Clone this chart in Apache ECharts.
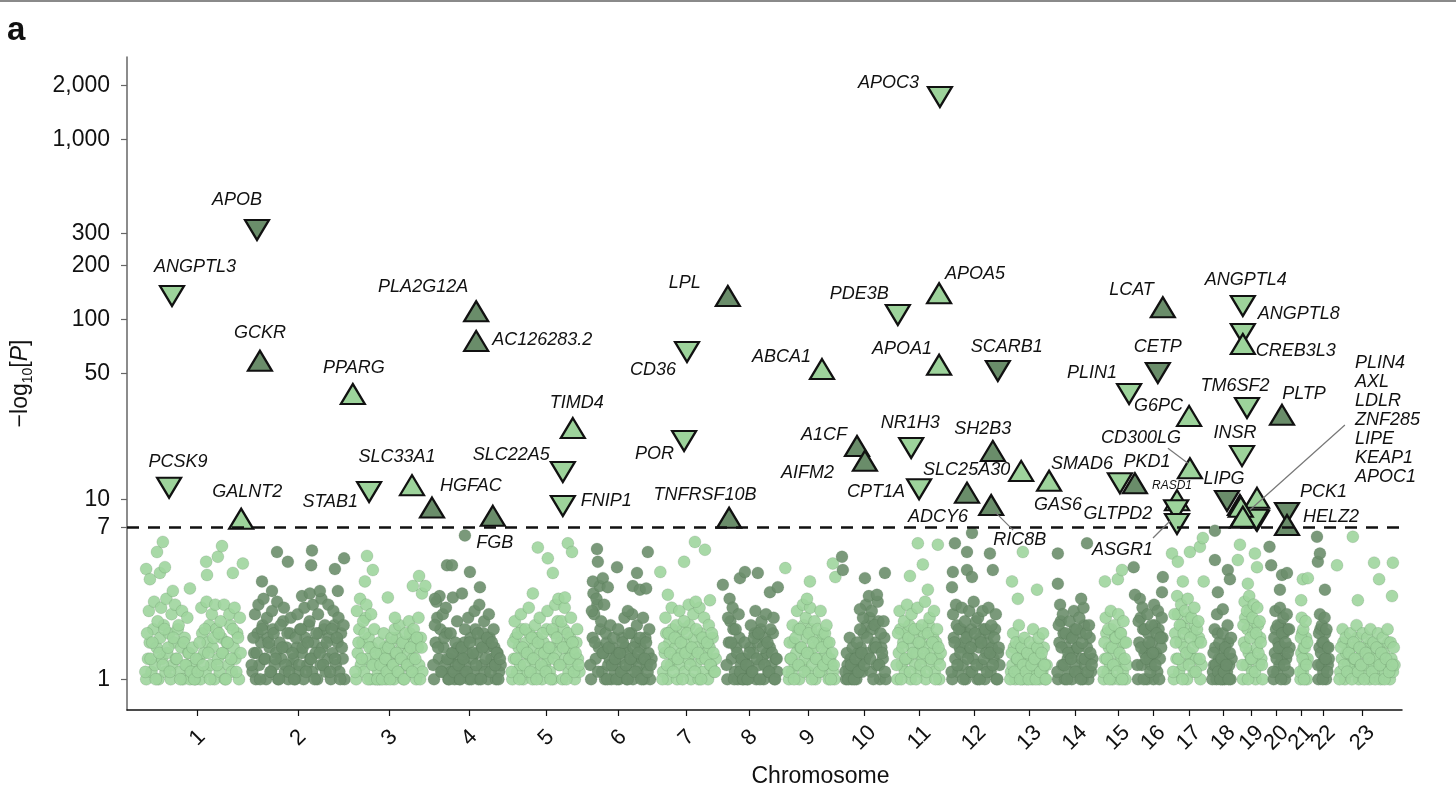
<!DOCTYPE html>
<html>
<head>
<meta charset="utf-8">
<title>Manhattan plot</title>
<script src="https://cdn.jsdelivr.net/npm/echarts@6.0.0/dist/echarts.min.js"></script>
<style>
  html, body { margin: 0; padding: 0; background: #fff; }
  #main { width: 1456px; height: 794px; }
</style>
</head>
<body>
<div id="main"></div>
<script>
// chromosome axis (genome position, arbitrary Mb-like units)
const chromLabels = ['1','2','3','4','5','6','7','8','9','10','11','12','13','14','15','16','17','18','19','20','21','22','23'];
const chromTicks = [169,411,630,822,1006,1180,1343,1494,1634,1769,1902,2033,2166,2275,2378,2463,2549,2631,2699,2759,2817,2871,2965];
const chromBounds = [31,286,535,722,910,1099,1272,1426,1574,1711,1834,1966,2107,2220,2330,2412,2498,2592,2664,2738,2803,2846,2897,3055];
const yTicks = [1, 7, 10, 50, 100, 200, 300, 1000, 2000];
const threshold = 7;

// sub-threshold variants, -log10 P, in genome order per chromosome (upper part of the cloud)
const bandValues = [
  [1.1,1.8,2.4,1.3,1.6,2.7,1.0,2.1,1.4,2.5,1.2,1.9,2.8,1.5,1.1,2.3,1.7,2.6,1.3,2.0,1.0,2.4,1.6,1.2,2.2,1.4,1.1,1.5,1.0,1.3,1.1,1.6,2.5,1.2,1.9,2.7,1.4,1.0,2.3,1.7,2.6,1.2,1.8,2.1,1.4,2.6,1.0,1.6,2.3,1.3,1.9,2.5,1.1,1.7,2.2],
  [1.2,1.7,2.3,1.4,2.6,1.0,1.9,2.8,1.3,2.2,1.6,1.1,2.4,1.8,1.3,2.7,1.0,2.0,1.5,2.5,1.2,1.8,1.1,2.2,1.4,1.0,1.7,2.3,1.2,1.9,1.5,2.5,1.1,1.6,2.1,1.3,2.6,1.0,1.8,2.3,1.4,2.8,1.2,2.0,1.6,2.6,1.1,1.9,2.4,1.3,1.7,2.2,1.0,1.5,2.0],
  [1.1,2.4,1.6,2.8,1.3,2.1,1.8,2.6,1.0,1.5,2.3,1.2,1.9,1.4,1.0,1.6,1.2,1.0,1.8,1.3,1.1,1.5,1.0,1.7,1.2,1.9,1.4,1.1,2.0,1.3,1.6,1.0,1.8,1.2,2.1,1.5,1.1,1.9,1.3,1.7,2.2,1.0,1.5],
  [1.2,2.0,2.7,1.5,2.9,1.1,2.3,1.7,2.5,1.3,1.0,1.8,1.4,1.1,1.6,2.1,1.2,1.0,1.5,1.3,1.9,1.1,2.2,1.6,1.0,1.4,2.4,1.2,1.8,2.6,1.0,1.5,2.1,1.3,1.7,2.3,1.1,1.6,1.9,1.2,1.4,1.0,1.3],
  [1.1,1.6,2.1,1.3,1.8,1.0,2.3,1.5,1.2,1.9,1.4,2.5,1.1,1.7,1.3,2.0,1.0,1.6,2.2,1.2,1.8,1.4,1.1,2.4,1.5,1.0,1.9,1.3,2.6,1.7,2.8,1.2,2.1,1.5,2.5,1.0,1.8,1.3,2.2,1.6,1.1,1.4,1.9,1.2],
  [1.2,2.4,3.0,1.6,2.8,1.1,3.3,2.1,1.4,2.6,1.8,1.0,1.5,2.0,1.2,1.7,1.3,1.0,1.9,1.4,1.1,1.6,2.2,1.2,1.0,1.8,1.3,2.3,1.5,1.1,2.0,1.4,1.7,1.0,2.2,1.3,1.6,1.1,1.9,1.2],
  [1.0,1.5,2.2,1.2,1.8,1.4,2.5,1.1,1.7,2.0,1.3,2.4,1.6,1.0,2.1,1.4,1.8,2.6,1.2,1.5,2.3,1.1,1.9,1.4,2.5,1.0,1.7,2.2,1.3,1.6,2.0,1.2,1.8,1.4,1.1],
  [1.2,2.2,2.8,1.6,2.5,1.0,1.9,1.4,2.3,1.1,1.3,1.0,1.6,1.2,1.0,1.4,2.0,1.1,1.7,2.4,1.3,1.8,1.0,2.1,1.5,1.2,2.3,1.6,1.1,1.9,1.4,2.2,1.0,1.3],
  [1.1,1.6,1.3,2.0,1.0,1.7,2.4,1.2,1.9,1.5,2.6,1.1,2.2,1.4,1.8,2.5,1.0,1.6,2.1,1.3,1.9,1.1,2.4,1.5,1.2,1.8,2.0,1.3,1.6,1.0,1.4,1.2],
  [1.1,1.4,1.0,1.7,1.2,1.5,1.0,1.3,1.6,1.1,1.9,1.4,2.2,1.2,2.6,1.7,2.9,1.3,2.4,1.0,2.0,1.5,2.7,1.2,1.8,1.4,2.1,1.1],
  [1.2,1.8,2.4,1.0,1.5,2.1,1.3,2.6,1.7,1.1,2.3,1.4,1.9,1.0,2.5,1.6,1.2,2.0,1.4,2.7,1.1,1.8,2.2,1.3,1.6,2.4,1.0,1.9,1.5,1.2],
  [1.1,2.3,1.6,2.6,1.2,1.9,1.4,2.5,1.0,2.1,1.7,1.3,2.4,1.5,1.1,2.7,1.8,1.2,2.2,1.0,1.6,2.4,1.3,1.9,1.1,2.5,1.4,2.0,1.2,1.7,2.3,1.0,1.5],
  [1.0,1.4,1.8,1.1,1.6,1.3,2.0,1.0,1.5,1.2,1.7,1.1,1.4,1.0,1.6,1.2,1.9,1.3,1.0,1.5,1.7,1.1,1.4,1.8,1.2,1.0],
  [1.1,2.0,2.6,1.5,2.3,1.2,1.8,1.0,1.4,2.1,1.3,1.7,2.4,1.1,1.9,1.5,2.2,1.0,1.6,2.5,1.3,1.8,1.1,2.0,1.4,1.2],
  [1.1,1.6,2.2,1.3,1.9,1.0,2.4,1.5,1.2,2.0,1.7,1.1,2.3,1.4,1.8,1.0,2.1,1.3,1.6],
  [1.2,2.1,2.8,1.5,2.5,1.0,1.9,1.3,2.3,1.6,1.1,2.0,1.4,2.6,1.2,1.8,2.4,1.0,1.7,2.2],
  [1.1,2.3,1.6,2.9,1.3,2.0,2.6,1.0,1.8,2.4,1.4,2.8,1.2,1.7,2.2,1.5,2.5,1.1,1.9,2.1,1.3,1.6],
  [1.0,1.4,1.9,1.2,2.3,1.1,1.6,1.0,1.3,1.8,1.1,1.5,1.2,2.0,1.0,1.4,1.7],
  [1.2,2.0,2.7,1.5,2.4,1.0,2.9,1.7,1.3,2.2,2.6,1.1,1.8,2.5,1.4,2.1,1.6,1.2],
  [1.1,1.7,2.4,1.3,2.0,1.5,2.5,1.0,1.8,2.2,1.2,1.6,2.3,1.4,1.9],
  [1.1,1.7,2.2,1.3,1.9,1.0,1.5,2.1,1.2,1.6],
  [1.2,1.8,2.3,1.4,2.0,1.0,1.6,2.2,1.3,1.9,1.1,1.5],
  [1.0,1.5,1.9,1.2,1.7,1.1,1.4,1.8,1.0,1.6,1.3,2.0,1.1,1.5,1.2,1.8,1.0,1.4,1.7,1.3,1.9,1.1,1.6,1.0,1.5,1.8,1.2,1.4,1.7,1.0,1.3,1.9,1.1,1.6,1.2,1.5]
];

// sub-threshold variants, lower part of the cloud (interleaved with the above)
const bandFill = [
  [1.0,1.3,1.6,1.1,1.9,1.2,1.5,1.0,1.7,1.3,2.0,1.1,1.4,1.8,1.0,1.2,1.6,1.3,1.9,1.1,1.5,1.0,1.7,1.2,1.4,1.0,1.1,1.2,1.0,1.1,1.3,1.0,1.8,1.4,1.1,1.6,2.0,1.2,1.5,1.0,1.9,1.3,1.1,1.7,1.4,1.0,1.6,1.2,2.0,1.1,1.5,1.3,1.8,1.0,1.4],
  [1.1,1.4,1.0,1.8,1.2,1.6,2.0,1.3,1.0,1.7,1.5,1.1,1.9,1.2,1.4,1.0,1.6,1.3,2.1,1.1,1.5,1.0,1.8,1.2,1.3,1.0,1.5,1.1,1.9,1.4,1.0,1.7,1.2,2.0,1.3,1.1,1.6,1.4,1.0,1.8,1.2,1.5,1.9,1.1,1.3,1.7,1.0,1.4,2.0,1.2,1.6,1.1,1.8,1.3,1.0],
  [1.0,1.4,1.9,1.2,1.6,1.1,2.2,1.3,1.7,1.0,1.5,1.2,1.0,1.3,1.1,1.0,1.4,1.2,1.5,1.0,1.3,1.1,1.6,1.2,1.0,1.4,1.7,1.1,1.3,1.5,1.0,1.6,1.2,1.4,1.8,1.1,1.3,1.6,1.0,1.5,1.2,1.7,1.1],
  [1.0,1.6,2.2,1.3,1.9,1.1,1.5,1.2,1.8,1.0,1.3,1.1,1.4,1.0,1.2,1.5,1.0,1.3,1.1,1.6,1.2,1.4,1.0,1.7,1.3,1.1,1.9,1.4,1.0,1.6,1.2,1.8,1.1,1.5,1.0,1.7,1.3,1.2,1.5,1.0,1.4,1.1,1.2],
  [1.0,1.3,1.7,1.1,1.5,1.2,1.9,1.0,1.4,1.6,1.1,1.8,1.3,1.0,1.5,1.2,1.7,1.1,1.4,1.0,1.6,1.2,1.9,1.3,1.1,1.5,1.0,1.8,1.4,2.1,1.2,1.6,1.0,1.9,1.3,1.5,1.1,1.7,1.2,1.4,1.0,1.6,1.3,1.1],
  [1.0,1.7,2.3,1.3,2.6,1.5,1.9,1.1,1.4,1.0,1.6,1.2,1.3,1.0,1.5,1.1,1.2,1.4,1.0,1.3,1.7,1.1,1.5,1.0,1.4,1.2,1.8,1.0,1.3,1.6,1.1,1.2,1.5,1.3,1.0,1.7,1.2,1.4,1.0,1.3],
  [1.1,1.4,1.8,1.0,1.6,1.2,1.9,1.3,1.5,1.0,1.7,1.2,1.4,1.9,1.1,1.6,1.3,2.0,1.0,1.4,1.7,1.2,1.5,1.0,1.8,1.3,1.1,1.6,1.4,1.0,1.5,1.2,1.7,1.1,1.3],
  [1.0,1.6,2.1,1.3,1.9,1.1,1.5,1.0,1.7,1.2,1.0,1.3,1.1,1.0,1.2,1.5,1.1,1.4,1.8,1.0,1.6,1.2,1.9,1.3,1.0,1.7,1.4,1.1,1.5,1.2,1.8,1.0,1.3,1.1],
  [1.0,1.3,1.1,1.6,1.2,1.4,1.9,1.0,1.5,1.2,2.0,1.3,1.7,1.1,1.4,1.9,1.2,1.5,1.0,1.7,1.3,1.6,1.1,1.8,1.2,1.4,1.6,1.0,1.3,1.2,1.1,1.0],
  [1.0,1.2,1.1,1.3,1.0,1.2,1.1,1.0,1.4,1.2,1.5,1.1,1.8,1.3,2.0,1.4,2.2,1.1,1.9,1.5,1.6,1.2,2.1,1.0,1.5,1.3,1.7,1.0],
  [1.0,1.4,1.9,1.2,1.6,1.1,1.8,1.3,2.0,1.0,1.5,1.7,1.2,1.4,1.9,1.1,1.6,1.3,1.8,1.0,1.5,2.0,1.2,1.4,1.7,1.1,1.6,1.3,1.0,1.4],
  [1.0,1.7,1.3,2.0,1.1,1.5,1.9,1.2,1.6,1.0,1.8,1.4,1.1,1.9,1.3,1.6,2.1,1.0,1.5,1.7,1.2,1.9,1.0,1.4,1.6,1.8,1.1,1.5,1.3,1.9,1.0,1.4,1.2],
  [1.1,1.2,1.5,1.0,1.3,1.1,1.6,1.2,1.0,1.4,1.3,1.0,1.2,1.1,1.3,1.0,1.5,1.1,1.2,1.4,1.0,1.3,1.1,1.5,1.0,1.2],
  [1.0,1.6,2.1,1.2,1.8,1.0,1.5,1.3,1.1,1.7,1.0,1.4,1.9,1.2,1.5,1.1,1.8,1.3,1.0,2.0,1.2,1.5,1.0,1.7,1.1,1.3],
  [1.0,1.3,1.8,1.1,1.5,1.2,1.9,1.0,1.4,1.7,1.2,1.5,1.0,1.8,1.3,1.1,1.6,1.0,1.2],
  [1.0,1.6,2.2,1.2,1.9,1.4,1.5,1.0,1.8,1.3,1.2,1.6,1.0,2.0,1.4,1.1,1.9,1.3,1.5,1.7],
  [1.0,1.8,1.3,2.3,1.1,1.6,2.0,1.2,1.5,1.9,1.0,2.2,1.4,1.3,1.8,1.1,2.0,1.3,1.6,1.7,1.0,1.2],
  [1.1,1.2,1.5,1.0,1.8,1.3,1.2,1.1,1.0,1.4,1.0,1.2,1.1,1.6,1.2,1.0,1.3],
  [1.0,1.6,2.2,1.2,1.9,1.4,2.4,1.3,1.1,1.8,2.1,1.0,1.5,2.0,1.2,1.7,1.3,1.0],
  [1.0,1.4,1.9,1.1,1.6,1.2,2.0,1.3,1.5,1.8,1.0,1.3,1.9,1.1,1.5],
  [1.0,1.4,1.8,1.1,1.5,1.2,1.3,1.7,1.0,1.3],
  [1.0,1.5,1.9,1.2,1.6,1.1,1.3,1.8,1.0,1.5,1.2,1.3],
  [1.1,1.3,1.6,1.0,1.4,1.2,1.1,1.5,1.2,1.3,1.1,1.7,1.0,1.2,1.4,1.5,1.1,1.2,1.4,1.0,1.6,1.3,1.2,1.1,1.3,1.5,1.0,1.2,1.4,1.1,1.2,1.6,1.0,1.3,1.1,1.2]
];

// scattered higher variants [position, -log10 P] per chromosome
const peakDots = [
  [[46,4.1],[55,3.6],[72,5.1],[79,3.9],[86,5.8],[91,4.2],[110,3.1],[151,3.2],[190,4.5],[192,3.8],[218,4.8],[228,5.5],[254,3.9],[278,4.4]],
  [[324,3.5],[348,3.1],[360,5.1],[386,4.5],[420,2.9],[439,3.0],[442,4.3],[444,5.2],[463,3.1],[499,4.1],[506,3.1],[521,4.7]],
  [[571,3.5],[576,4.85],[590,4.05],[626,2.85],[643,2.2],[686,3.3],[701,3.75],[708,3.0],[716,3.3]],
  [[739,2.8],[768,4.3],[780,4.3],[782,2.85],[804,3.0],[811,6.3],[823,3.95],[847,3.25]],
  [[974,3.0],[986,5.4],[1010,4.7],[1022,3.9],[1051,2.85],[1058,5.7],[1068,5.1]],
  [[1118,3.5],[1128,5.3],[1130,4.5],[1142,3.65],[1154,3.25],[1176,4.2],[1202,2.4],[1214,3.3],[1224,3.9],[1231,3.15],[1246,3.2],[1250,5.1]],
  [[1280,3.95],[1298,2.95],[1337,4.5],[1363,5.8],[1365,2.7],[1387,5.25],[1399,2.75]],
  [[1430,3.35],[1471,3.65],[1483,3.95],[1514,3.9],[1543,3.05],[1562,3.25]],
  [[1580,4.15],[1632,2.8],[1639,3.5],[1694,4.4],[1700,3.7]],
  [[1716,4.8],[1718,4.05],[1759,2.45],[1771,3.65],[1800,2.95],[1819,3.9]],
  [[1879,3.75],[1898,5.7],[1910,4.35],[1922,3.15],[1946,5.6]],
  [[1980,3.25],[1982,3.95],[1987,5.7],[2016,4.05],[2016,5.1],[2028,6.5],[2028,3.7],[2071,5.0],[2078,4.05]],
  [[2124,3.5],[2138,2.8],[2150,5.1],[2184,3.15]],
  [[2234,5.0],[2234,3.4],[2290,2.8],[2304,5.7]],
  [[2347,3.5],[2378,3.6],[2388,4.05]],
  [[2416,4.2],[2419,2.95],[2484,3.05],[2486,3.7]],
  [[2508,5.0],[2522,4.5],[2534,3.5],[2551,5.1],[2575,5.45],[2582,6.1],[2584,3.5]],
  [[2611,6.7],[2611,4.6],[2618,3.05],[2630,2.45],[2642,4.05],[2647,3.6]],
  [[2666,4.6],[2671,5.6],[2690,3.4],[2707,5.0],[2712,4.2]],
  [[2742,5.45],[2746,4.3],[2767,3.15],[2772,3.8],[2784,3.9]],
  [[2818,2.75],[2822,3.6],[2834,3.65]],
  [[2856,6.2],[2858,4.5],[2863,5.0],[2875,3.15]],
  [[2904,4.3],[2942,6.2],[2954,2.75],[2993,4.45],[3005,3.6],[3036,2.9],[3038,4.45]]
];

// genome-wide significant loci
const geneNames = ['ANGPTL3','PCSK9','GALNT2','APOB','GCKR','PPARG','STAB1','SLC33A1','HGFAC','PLA2G12A','AC126283.2','FGB','SLC22A5','FNIP1','TIMD4','POR','CD36','LPL','TNFRSF10B','ABCA1','A1CF','AIFM2','PDE3B','NR1H3','CPT1A','APOC3','APOA5','APOA1','ADCY6','RIC8B','SH2B3','SCARB1','SLC25A30','GAS6','SMAD6','PLIN1','PKD1','CETP','LCAT','RASD1','GLTPD2','ASGR1','G6PC','CD300LG','LIPG','INSR','ANGPTL4','ANGPTL8','CREB3L3','TM6SF2','PLIN4','AXL','LDLR','ZNF285','LIPE','KEAP1','APOC1','PLTP','PCK1','HELZ2'];
const geneChr = [1,1,1,2,2,3,3,3,4,4,4,4,5,5,5,7,7,8,8,9,10,10,11,11,11,11,11,11,12,12,12,12,13,13,15,15,16,16,16,17,17,17,17,17,18,19,19,19,19,19,19,19,19,19,19,19,19,20,20,20];
const genePos = [108,101,274,312,319,542,581,684,732,838,838,878,1046,1046,1070,1337,1344,1442,1445,1668,1752,1771,1850,1882,1901,1951,1949,1949,2016,2074,2078,2090,2146,2213,2383,2405,2419,2474,2486,2520,2518,2520,2549,2551,2640,2676,2678,2678,2678,2688,2671,2712,2676,2712,2710,2673,2678,2772,2784,2784];
const geneP = [135,11.6,7.8,314,59,38.5,11.0,12.0,9.0,111,76,8.1,14.2,9.2,24.9,21.1,66,135,7.9,53,19.8,16.4,106,19.3,11.4,1726,140,56,10.9,9.3,18.6,51.7,14.4,12.7,12.3,38.5,12.3,50.4,117,9.9,8.7,7.3,29.1,14.9,9.8,17.4,119,83,73,32.2,9.3,10.2,7.9,7.6,7.7,9.1,8.0,29.5,8.4,7.2];
const geneDir = ['down','down','up','down','up','up','down','up','up','up','up','up','down','down','up','down','down','up','up','up','up','up','down','down','down','down','up','up','up','up','up','down','up','up','down','down','up','down','up','up','down','down','up','up','down','down','down','down','up','down','up','up','up','down','down','up','up','up','down','up'];
const clusterNames = ['PLIN4','AXL','LDLR','ZNF285','LIPE','KEAP1','APOC1'];

// label placement: [dx, dy, align] in px from the marker centre
const labelPlacement = {
  ANGPTL3:[23,-29,'center'], PCSK9:[9,-26,'center'], GALNT2:[6,-27,'center'], APOB:[-20,-30,'center'],
  GCKR:[0,-28,'center'], PPARG:[1,-26,'center'], STAB1:[-11,10,'right'], SLC33A1:[-15,-28,'center'],
  HGFAC:[8,-22,'left'], PLA2G12A:[-8,-24,'right'], 'AC126283.2':[16,-1,'left'], FGB:[2,27,'center'],
  SLC22A5:[-13,-17,'right'], FNIP1:[18,-5,'left'], TIMD4:[4,-25,'center'], POR:[-10,13,'right'],
  CD36:[-11,18,'right'], LPL:[-27,-13,'right'], TNFRSF10B:[-24,-23,'center'], ABCA1:[-11,-12,'right'],
  A1CF:[-10,-11,'right'], AIFM2:[-31,12,'right'], PDE3B:[-9,-21,'right'], NR1H3:[-1,-25,'center'],
  CPT1A:[-14,3,'right'], APOC3:[-21,-14,'right'], APOA5:[6,-19,'left'], APOA1:[-7,-16,'right'],
  ADCY6:[-29,24,'center'], RIC8B:[2,35,'left'], SH2B3:[-10,-22,'center'], SCARB1:[9,-24,'center'],
  SLC25A30:[-11,-1,'right'], GAS6:[9,24,'center'], SMAD6:[-7,-19,'right'], PLIN1:[-12,-21,'right'],
  PKD1:[12,-21,'center'], CETP:[0,-26,'center'], LCAT:[-9,-17,'right'], RASD1:[-5,-15,'center'],
  GLTPD2:[-24,4,'right'], ASGR1:[-24,26,'right'], G6PC:[-6,-10,'right'], CD300LG:[-49,-30,'center'],
  LIPG:[-3,-22,'center'], INSR:[-7,-23,'center'], ANGPTL4:[3,-26,'center'], ANGPTL8:[15,-20,'left'],
  CREB3L3:[13,7,'left'], TM6SF2:[-12,-22,'center'], PLTP:[22,-21,'center'], PCK1:[13,-21,'left'],
  HELZ2:[16,-8,'left'], PLIN4:[115,-85,'left']
};
// leader lines: [from, to] in px from the marker centre
const leaderLines = {
  RIC8B: [[4,7],[22,25]], CD300LG: [[-22,-20],[-2,-5]],
  ASGR1: [[-24,14],[-7,-3]], PLIN4: [[10,5],[105,-80]]
};

const FONT = 'Liberation Sans, Arial, Helvetica, sans-serif';
const LIGHT = '#9dd39b';
const DARK = '#6a8d6a';
const DOT_LIGHT = '#9fd59d';
const DOT_DARK = '#6b8e6b';
const UP = 'path://M12,0L24,20L0,20Z';
const DOWN = 'path://M0,0L24,0L12,20Z';
const edgeInset = 12;

// background dots
var dots = [];
bandValues.forEach(function (vals, c) {
  var start = chromBounds[c] + edgeInset, end = chromBounds[c + 1] - edgeInset;
  var col = c % 2 === 0 ? DOT_LIGHT : DOT_DARK;
  var fill = bandFill[c];
  fill.forEach(function (v, i) {
    dots.push({ value: [start + (i + 0.75) / fill.length * (end - start), v], itemStyle: { color: col } });
  });
  vals.forEach(function (v, i) {
    dots.push({ value: [start + (i + 0.25) / vals.length * (end - start), v], itemStyle: { color: col } });
  });
  peakDots[c].forEach(function (p) {
    dots.push({ value: [p[0], p[1]], itemStyle: { color: col } });
  });
});

var geneData = geneNames.map(function (name, i) {
  var lay = labelPlacement[name];
  var item = {
    name: name,
    value: [genePos[i], geneP[i]],
    symbol: geneDir[i] === 'up' ? UP : DOWN,
    itemStyle: { color: geneChr[i] % 2 ? LIGHT : DARK }
  };
  if (lay) {
    item.label = {
      show: true,
      align: lay[2],
      offset: [lay[0], lay[1]],
      formatter: name === 'PLIN4' ? clusterNames.join('\n') : name,
      fontSize: name === 'RASD1' ? 12 : 18,
      lineHeight: name === 'PLIN4' ? 19 : 20
    };
  } else {
    item.label = { show: false };
  }
  return item;
});

var chart = echarts.init(document.getElementById('main'));
chart.setOption({
  animation: false,
  backgroundColor: '#fff',
  textStyle: { fontFamily: FONT },
  grid: { left: 127, right: 54, top: 57, bottom: 84, containLabel: false },
  xAxis: {
    type: 'value', min: 0, max: 3060,
    name: 'Chromosome', nameLocation: 'middle', nameGap: 55,
    nameTextStyle: { fontSize: 23, color: '#111', fontFamily: FONT, padding: [0, 0, 0, 112] },
    axisLine: { show: true, lineStyle: { color: '#111', width: 1.5 } },
    axisTick: { show: true, length: 6, customValues: chromTicks, lineStyle: { color: '#111', width: 1.2 } },
    axisLabel: {
      customValues: chromTicks, rotate: 45, align: 'center', verticalAlign: 'middle',
      margin: 28, fontSize: 22, color: '#111', fontFamily: FONT,
      formatter: function (v) {
        for (var k = 0; k < chromTicks.length; k++) if (Math.abs(chromTicks[k] - v) < 0.5) return chromLabels[k];
        return '';
      }
    },
    splitLine: { show: false }
  },
  yAxis: {
    type: 'log', logBase: 10, min: 0.675, max: 2877,
    name: '{a|−log}{s|10}{a|[}{i|P}{a|]}', nameLocation: 'middle', nameGap: 92, nameRotate: 90,
    nameTextStyle: {
      rich: {
        a: { fontSize: 23, color: '#111', fontFamily: FONT, lineHeight: 28 },
        i: { fontSize: 23, color: '#111', fontFamily: FONT, fontStyle: 'italic', lineHeight: 28 },
        s: { fontSize: 14, color: '#111', fontFamily: FONT, verticalAlign: 'bottom', lineHeight: 15 }
      }
    },
    axisLine: { show: true, lineStyle: { color: '#666', width: 1.5 } },
    axisTick: { show: true, length: 6, customValues: yTicks, lineStyle: { color: '#666', width: 1.2 } },
    axisLabel: {
      customValues: yTicks, fontSize: 23, color: '#111', margin: 17, fontFamily: FONT,
      formatter: function (v) { return Math.round(v).toLocaleString('en-US'); }
    },
    splitLine: { show: false },
    minorTick: { show: false }
  },
  series: [
    {
      type: 'scatter',
      symbol: 'circle',
      symbolSize: 12,
      z: 2,
      itemStyle: { opacity: 0.9, borderColor: 'rgba(60,90,60,0.22)', borderWidth: 0.8 },
      data: dots,
      markLine: {
        silent: true,
        symbol: ['none', 'none'],
        label: { show: false },
        lineStyle: { color: '#111', width: 2.5, type: [12, 9] },
        data: [{ yAxis: threshold }]
      }
    },
    {
      type: 'scatter',
      symbolSize: [24, 20],
      z: 4,
      itemStyle: { borderColor: '#111', borderWidth: 2.2, borderJoin: 'miter', opacity: 1 },
      label: {
        show: true, position: 'inside', verticalAlign: 'middle',
        color: '#111', fontStyle: 'italic', fontSize: 18, fontFamily: FONT
      },
      data: geneData
    }
  ]
});

// overlay: panel letter, top rule and label leader lines
var graphics = [
  { type: 'rect', shape: { x: 0, y: 0, width: 1456, height: 2 }, style: { fill: '#8a8a8a' }, silent: true },
  { type: 'text', style: { x: 7, y: 31, text: 'a', font: 'bold 33px ' + FONT, fill: '#111', verticalAlign: 'middle' }, silent: true }
];
Object.keys(leaderLines).forEach(function (name) {
  var i = geneNames.indexOf(name);
  var p = chart.convertToPixel({ gridIndex: 0 }, [genePos[i], geneP[i]]);
  var l = leaderLines[name];
  graphics.push({
    type: 'line', z: 10, silent: true,
    shape: { x1: p[0] + l[0][0], y1: p[1] + l[0][1], x2: p[0] + l[1][0], y2: p[1] + l[1][1] },
    style: { stroke: '#777', lineWidth: 1.2 }
  });
});
chart.setOption({ graphic: graphics });
</script>
</body>
</html>
